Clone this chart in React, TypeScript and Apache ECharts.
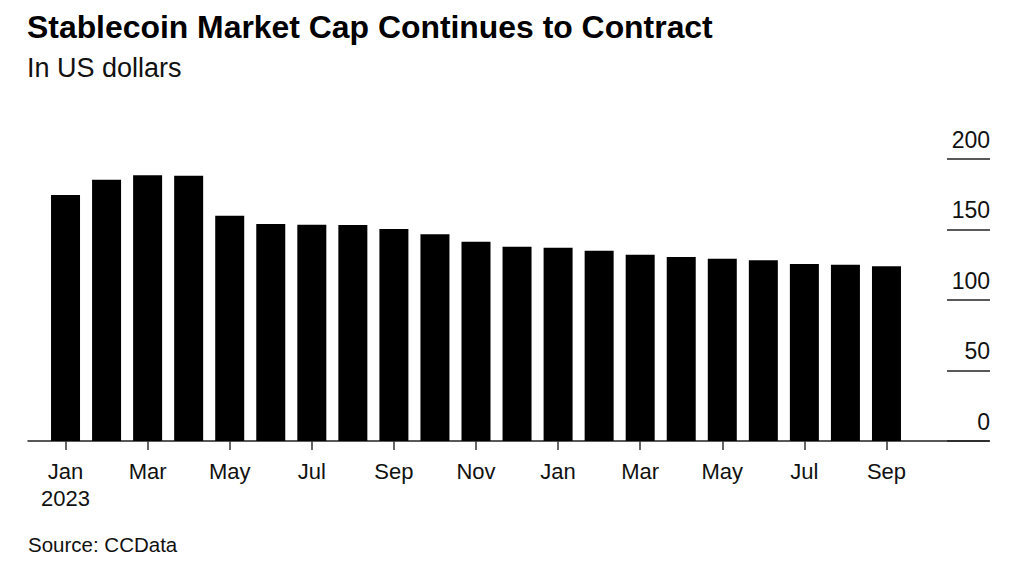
import React, { useEffect, useRef } from "react";
import * as echarts from "echarts";

const categories = [
  "2023-01", "2023-02", "2023-03", "2023-04", "2023-05", "2023-06", "2023-07",
  "2023-08", "2023-09", "2023-10", "2023-11", "2023-12", "2024-01", "2024-02",
  "2024-03", "2024-04", "2024-05", "2024-06", "2024-07", "2024-08", "2024-09",
];
const marketCap = [
  174.5, 185.3, 188.4, 188.2, 159.8, 153.9, 153.4, 153.2, 150.4, 146.6, 141.3,
  137.8, 137.1, 135.0, 132.1, 130.5, 129.3, 128.2, 125.5, 125.0, 123.9,
];
const monthNames = ["Jan", "Feb", "Mar", "Apr", "May", "Jun", "Jul", "Aug", "Sep", "Oct", "Nov", "Dec"];
const yTicks = { min: 0, max: 200, interval: 50 };

const FONT = "'Liberation Sans', Arial, Helvetica, sans-serif";

export default function App() {
  const ref = useRef<HTMLDivElement>(null);
  useEffect(() => {
    if (!ref.current) return;
    const chart = echarts.init(ref.current, null, { renderer: "svg" });
    chart.setOption({
      animation: false,
      backgroundColor: "#ffffff",
      textStyle: { fontFamily: FONT },
      title: [
        {
          text: "Stablecoin Market Cap Continues to Contract",
          left: 27,
          top: 11,
          padding: 0,
          textStyle: { fontFamily: FONT, fontSize: 31.9, fontWeight: "bold", color: "#000" },
        },
        {
          text: "In US dollars",
          left: 27,
          top: 54,
          padding: 0,
          textStyle: { fontFamily: FONT, fontSize: 27, fontWeight: "normal", color: "#111" },
        },
        {
          text: "Source: CCData",
          left: 28,
          top: 534,
          padding: 0,
          textStyle: { fontFamily: FONT, fontSize: 20.5, fontWeight: "normal", color: "#111" },
        },
      ],
      grid: [
        { left: 45, right: 117, top: 159, bottom: 129 },
        { left: 28, right: 35, top: 159, bottom: 129 },
        { left: 947, right: 34, top: 159, bottom: 129 },
      ],
      xAxis: [
        {
          type: "category",
          gridIndex: 0,
          data: categories,
          axisLine: { show: false },
          axisTick: {
            show: true,
            alignWithLabel: true,
            interval: 1,
            length: 9,
            lineStyle: { color: "#333", width: 1.5 },
          },
          axisLabel: {
            interval: 1,
            margin: 17,
            fontSize: 22,
            lineHeight: 27,
            color: "#111",
            fontFamily: FONT,
            formatter: (v: string, i: number) => {
              const [y, m] = v.split("-");
              const name = monthNames[parseInt(m, 10) - 1];
              return i === 0 ? name + "\n" + y : name;
            },
          },
          splitLine: { show: false },
        },
        {
          type: "value",
          gridIndex: 1,
          min: 0,
          max: 1,
          axisLine: { show: true, onZero: false, lineStyle: { color: "#222", width: 1.5 } },
          axisTick: { show: false },
          axisLabel: { show: false },
          splitLine: { show: false },
        },
        {
          type: "value",
          gridIndex: 2,
          min: 0,
          max: 1,
          show: false,
        },
      ],
      yAxis: [
        {
          type: "value",
          gridIndex: 0,
          min: yTicks.min,
          max: yTicks.max,
          interval: yTicks.interval,
          show: false,
        },
        {
          type: "value",
          gridIndex: 1,
          min: 0,
          max: 1,
          show: false,
        },
        {
          type: "value",
          gridIndex: 2,
          position: "right",
          min: yTicks.min,
          max: yTicks.max,
          interval: yTicks.interval,
          axisLine: { show: false },
          axisTick: { show: false },
          splitLine: { show: true, lineStyle: { color: "#222", width: 1.5 } },
          axisLabel: {
            inside: true,
            margin: 0,
            align: "right",
            verticalAlign: "bottom",
            padding: [0, 0, 8, 0],
            fontSize: 23,
            color: "#111",
            fontFamily: FONT,
          },
        },
      ],
      series: [
        {
          type: "bar",
          xAxisIndex: 0,
          yAxisIndex: 0,
          data: marketCap,
          barWidth: 29,
          itemStyle: { color: "#000" },
        },
      ],
    });
    return () => chart.dispose();
  }, []);
  return (
    <div
      ref={ref}
      style={{ position: "fixed", left: 0, top: 0, width: 1024, height: 570 }}
    />
  );
}
